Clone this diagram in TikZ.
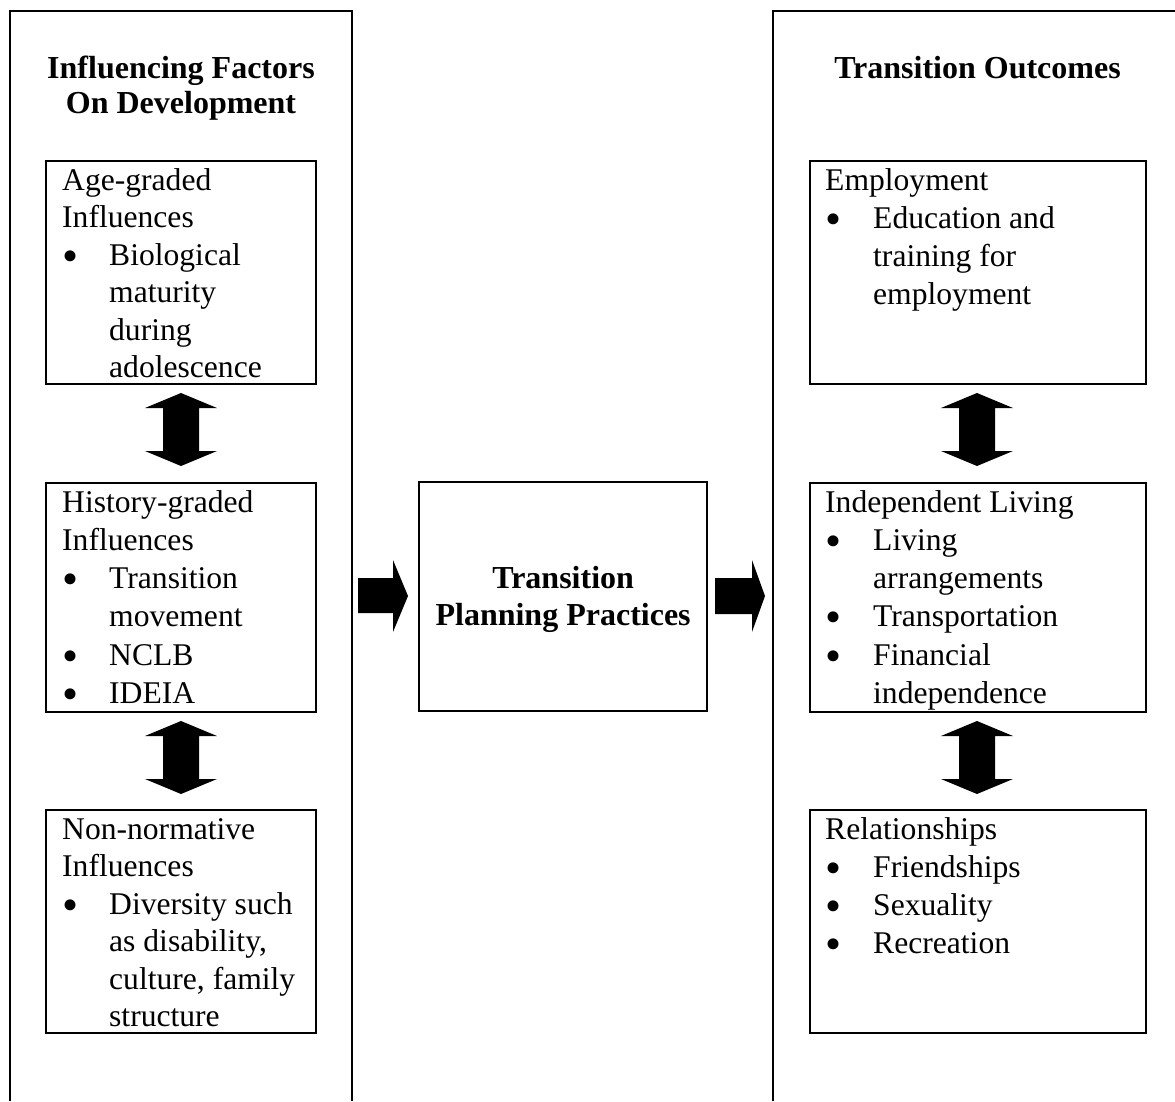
\documentclass[tikz,border=0pt]{standalone}
\usepackage{fontspec}
\setmainfont{Liberation Serif}
\usetikzlibrary{positioning}

\tikzset{
  box/.style={draw, line width=2.2pt, inner sep=0pt, anchor=north west},
  frame/.style={line width=2pt},
  boxtext/.style={align=left, inner sep=0pt, anchor=north west, font=\fontsize{31.6}{38.2}\selectfont},
  heading/.style={align=center, inner sep=0pt, anchor=north, font=\fontsize{32}{35}\selectfont\bfseries},
  blockarrow/.style={fill=black}
}
\newcommand{\dotmark}{\raisebox{-6pt}[0pt][0pt]{\scalebox{1.45}{\textbullet}}}
\newcommand{\bul}{\makebox[47pt][l]{\dotmark}}
\newcommand{\cont}{\hspace*{47pt}}
\newcommand{\rbul}{\makebox[48pt][l]{\dotmark}}
\newcommand{\rcont}{\hspace*{48pt}}
\newcommand{\firstline}{\rule{0pt}{22pt}}

\begin{document}
\begin{tikzpicture}[x=1pt, y=-1pt]
\useasboundingbox (0,0) rectangle (1175,1101);
% outer frames, open at the bottom
\draw[frame] (10,1101) -- (10,11) -- (352,11) -- (352,1101);
\draw[frame] (773,1101) -- (773,11) -- (1175,11);
\node[heading] (factors) at (181,55) {\rule{0pt}{23pt}Influencing Factors\\On Development};
\node[heading] (outcomes) at (977.5,55) {\rule{0pt}{23pt}Transition Outcomes};

% left column
\node[box, minimum width=270pt, minimum height=223pt] (age) at (45,160) {};
\node[box, minimum width=270pt, minimum height=229pt] (history) at (45,482) {};
\node[box, minimum width=270pt, minimum height=223pt] (nonnorm) at (45,809) {};
\node[boxtext, font=\fontsize{31.6}{37.5}\selectfont, below right=8pt and 17pt of age.north west] (agetxt)
  {\firstline Age-graded\\Influences\\\bul Biological\\\cont maturity\\\cont during\\\cont adolescence};
\node[boxtext, below right=8pt and 17pt of history.north west] (historytxt)
  {\firstline History-graded\\Influences\\\bul Transition\\\cont movement\\\bul NCLB\\\bul IDEIA};
\node[boxtext, font=\fontsize{31.6}{37.5}\selectfont, below right=8pt and 17pt of nonnorm.north west] (nonnormtxt)
  {\firstline Non-normative\\Influences\\\bul Diversity such\\\cont as disability,\\\cont culture, family\\\cont structure};

% centre
\node[box, minimum width=288pt, minimum height=229pt] (plan) at (418,481) {};
\node[heading, font=\fontsize{32}{37}\selectfont\bfseries, below=84pt of plan.north] (plantxt)
  {\rule{0pt}{23pt}Transition\\Planning Practices};

% right column
\node[box, minimum width=336pt, minimum height=223pt] (employ) at (809,160) {};
\node[box, minimum width=336pt, minimum height=229pt] (living) at (809,482) {};
\node[box, minimum width=336pt, minimum height=223pt] (relation) at (809,809) {};
\node[boxtext, below right=8pt and 16pt of employ.north west] (employtxt)
  {\firstline Employment\\\rbul Education and\\\rcont training for\\\rcont employment};
\node[boxtext, below right=8pt and 16pt of living.north west] (livingtxt)
  {\firstline Independent Living\\\rbul Living\\\rcont arrangements\\\rbul Transportation\\\rbul Financial\\\rcont independence};
\node[boxtext, below right=8pt and 16pt of relation.north west] (relationtxt)
  {\firstline Relationships\\\rbul Friendships\\\rbul Sexuality\\\rbul Recreation};

% double block arrows between stacked boxes
\foreach \cx/\cy in {181/429.5, 181/757.5, 977/429.5, 977/757.5}
  \fill[blockarrow] (\cx,\cy-36.5) -- (\cx+36,\cy-21.5) -- (\cx+18,\cy-21.5) -- (\cx+18,\cy+21.5)
    -- (\cx+36,\cy+21.5) -- (\cx,\cy+36.5) -- (\cx-36,\cy+21.5) -- (\cx-18,\cy+21.5)
    -- (\cx-18,\cy-21.5) -- (\cx-36,\cy-21.5) -- cycle;

% block arrows into and out of the centre box
\fill[blockarrow] (358,578) -- (393,578) -- (393,560) -- (408,596) -- (393,632) -- (393,613) -- (358,613) -- cycle;
\fill[blockarrow] (715,578) -- (752,578) -- (752,560) -- (765,596) -- (752,632) -- (752,614) -- (715,614) -- cycle;
\end{tikzpicture}
\end{document}
